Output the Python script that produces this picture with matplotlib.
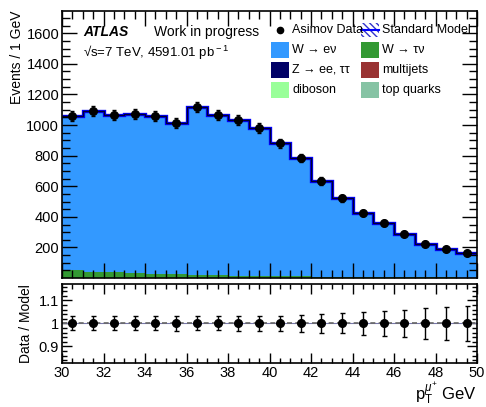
import numpy as np
import matplotlib
matplotlib.use("Agg")
import matplotlib.pyplot as plt
from matplotlib.patches import Rectangle
from matplotlib.ticker import MultipleLocator

plt.rcParams['font.family'] = ['Liberation Sans', 'DejaVu Sans']
plt.rcParams['mathtext.fontset'] = 'custom'
plt.rcParams['mathtext.rm'] = 'Liberation Sans'
plt.rcParams['mathtext.it'] = 'Liberation Sans:italic'

#%% data
edges = np.arange(30, 51, 1)
w_enu = [1009, 1053, 1031, 1041, 1032, 988, 1097, 1046, 1014, 967,
         867, 773, 624, 512, 419, 352, 283, 221, 186, 163]
w_taunu = [52, 41, 37, 32, 28, 26, 21, 19, 17, 15,
           13, 11, 10, 9, 8, 7, 6, 5, 5, 4]
z_ll = [0] * 20
multijets = [0] * 20
diboson = [0] * 20
top = [0] * 20

stack = [("W_taunu", w_taunu, "#339933"),
         ("Z_ll", z_ll, "#000066"),
         ("multijets", multijets, "#993333"),
         ("diboson", diboson, "#99ff99"),
         ("top", top, "#86c3a4"),
         ("W_enu", w_enu, "#3399ff")]

total = np.sum([s[1] for s in stack], axis=0)
data = total.copy()  # Asimov data
data_err = np.sqrt(data)
ratio = data / total
ratio_err = data_err / total
centers = 0.5 * (edges[:-1] + edges[1:])

#%% figure
W, H = 486, 407
fig = plt.figure(figsize=(W / 100, H / 100), dpi=100)
ax = fig.add_axes([62 / W, 1 - 277.5 / H, 415 / W, 266.5 / H])
axr = fig.add_axes([62 / W, 1 - 363 / H, 415 / W, 79 / H])

base = np.zeros(20)
for name, vals, col in stack:
    vals = np.asarray(vals, float)
    ax.stairs(base + vals, edges, baseline=base, fill=True, color=col, lw=0)
    base = base + vals

ax.stairs(total, edges, baseline=None, color="#0000ff", lw=2.4)
ax.stairs(total, edges, baseline=None, color="#000033", lw=1.0)
ax.errorbar(centers, data, yerr=data_err, fmt="o", color="black", ms=5.5,
            capsize=1.5, elinewidth=1, capthick=1)

ax.set_xlim(30, 50)
ax.set_ylim(4, 1745)
ax.yaxis.set_minor_locator(MultipleLocator(50))
ax.set_yticks([200, 400, 600, 800, 1000, 1200, 1400, 1600])
ax.xaxis.set_major_locator(MultipleLocator(2))
ax.xaxis.set_minor_locator(MultipleLocator(0.5))
ax.tick_params(labelbottom=False)
ax.set_ylabel("Events / 1 GeV", fontsize=10, loc="top", labelpad=2)

axr.axhline(1, color="#7777aa", lw=0.8)
axr.axhline(1, color="#666666", lw=1.2, ls=(0, (3, 2)))
axr.errorbar(centers, ratio, yerr=ratio_err, fmt="o", color="black", ms=5.5,
             capsize=1.8, elinewidth=1, capthick=1)
axr.set_xlim(30, 50)
axr.set_ylim(0.828, 1.171)
axr.set_yticks([0.9, 1.0, 1.1])
axr.set_yticklabels(["0.9", "1", "1.1"])
axr.yaxis.set_minor_locator(MultipleLocator(0.02))
axr.xaxis.set_major_locator(MultipleLocator(2))
axr.xaxis.set_minor_locator(MultipleLocator(0.5))
axr.set_ylabel("Data / Model", fontsize=10, labelpad=4)
axr.set_xlabel(r"p$_{\rm T}^{\mu^{+}}$ GeV", fontsize=12, loc="right", labelpad=0)

for a, ml in ((ax, 11), (axr, 7)):
    a.tick_params(which="both", direction="in", top=True, right=True,
                  labelsize=10.5, width=1, pad=2)
    a.tick_params(which="major", length=ml)
    a.tick_params(which="minor", length=ml / 2)
    for sp in a.spines.values():
        sp.set_linewidth(1.2)

#%% labels and legend (positions in pixels)
def px(x, y):
    return x / W, 1 - y / H

fig.text(*px(83, 32), "ATLAS", fontsize=10, fontweight="bold", style="italic", va="center")
fig.text(*px(154, 32), "Work in progress", fontsize=10, va="center")
fig.text(*px(83, 53), "√s=7 TeV, 4591.01 pb$^{\\rm -1}$", fontsize=9.5, va="center")

entries = [(271, 30, "Asimov Data", "data"), (361, 30, "Standard Model", "sm"),
           (271, 50, "W → eν", "#3399ff"), (361, 50, "W → τν", "#339933"),
           (271, 70, "Z → ee, ττ", "#000066"), (361, 70, "multijets", "#993333"),
           (271, 90, "diboson", "#99ff99"), (361, 90, "top quarks", "#86c3a4")]
for x, y, lab, kind in entries:
    if kind == "data":
        fig.add_artist(plt.Line2D([(x + 9) / W], [1 - y / H], marker="o", color="black", ms=4.5))
    elif kind == "sm":
        fig.add_artist(Rectangle(px(x, y + 7), 18 / W, 14 / H, facecolor="none",
                                 edgecolor="#3333cc", hatch="\\\\\\\\\\", lw=0))
        fig.add_artist(plt.Line2D([x / W, (x + 18) / W], [1 - y / H] * 2, color="#0000ff", lw=1.5))
    else:
        fig.add_artist(Rectangle(px(x, y + 7.5), 18 / W, 15 / H, color=kind, lw=0))
    fig.text(*px(x + 21, y), lab, fontsize=9, va="center")

fig.savefig("out.png", dpi=100)
